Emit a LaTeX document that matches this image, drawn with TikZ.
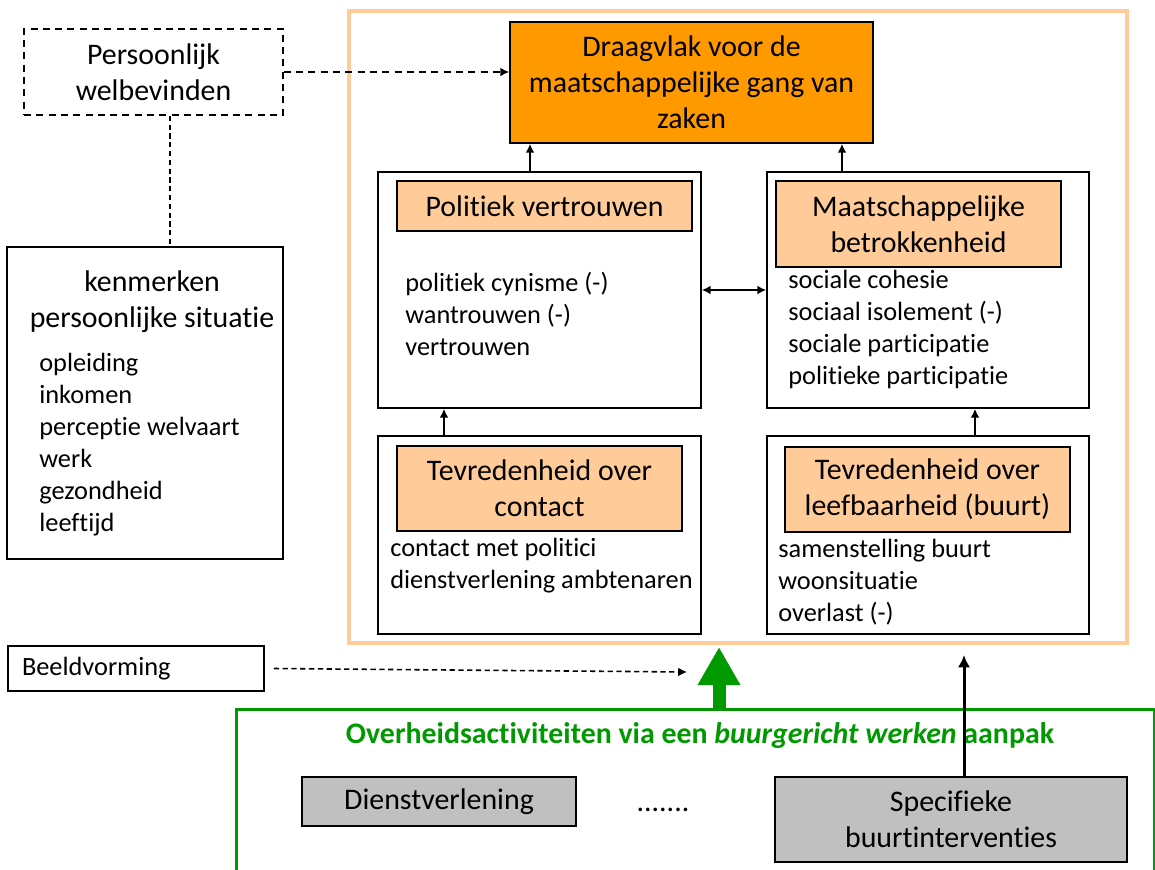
\documentclass[tikz,border=0pt]{standalone}
\usepackage{fontspec}
\setmainfont{Carlito}[Ligatures=NoCommon,Contextuals=NoAlternate]
\usetikzlibrary{arrows.meta,positioning}
\definecolor{perzik}{HTML}{FFCC99}
\definecolor{oranje}{HTML}{FF9900}
\definecolor{groen}{HTML}{009900}
\definecolor{grijs}{HTML}{C0C0C0}
\newcommand\kopfont{\fontsize{17}{20.5}\selectfont}
\newcommand\lijstfont{\fontsize{15}{18.2}\selectfont}

\begin{document}
\begin{tikzpicture}[x=0.02cm,y=-0.02cm,
    kader/.style={draw,rectangle,inner sep=0pt,line width=1pt},
    kop/.style={kader,fill=perzik,font=\kopfont,align=center},
    lijst/.style={inner sep=0pt,align=left,font=\lijstfont,anchor=west},
    pijl/.style={line width=0.9pt,-{Latex[length=5pt,width=5pt]}}]
  \useasboundingbox (0,0) rectangle (1155,869);

  % kader rond het model
  \draw[perzik,line width=2.2pt] (349,11) rectangle (1127,643);

  \node[kader,dash pattern=on 4pt off 3pt,minimum width=5.18cm,minimum height=1.72cm,font=\kopfont,align=center] (welzijn) at (153.5,72) {Persoonlijk\\welbevinden};
  \node[kader,minimum width=5.52cm,minimum height=6.24cm] (kenmerk) at (145,403) {};
  \node[font=\kopfont,align=center,inner sep=0pt] (kenmerktitel) at (152,301.5) {kenmerken\\persoonlijke situatie};
  \node[lijst] (kenmerklijst) at (39,444.5) {opleiding\\inkomen\\perceptie welvaart\\werk\\gezondheid\\leeftijd};
  \node[kader,minimum width=5.12cm,minimum height=0.9cm,font=\lijstfont,text width=4.56cm,align=left] (beeld) at (136,668.5) {Beeldvorming};

  \node[kader,fill=oranje,minimum width=7.26cm,minimum height=2.42cm,font=\kopfont,align=center] (draagvlak) at (691.5,82.5) {Draagvlak voor de\\maatschappelijke gang van\\zaken};

  \node[kader,minimum width=6.46cm,minimum height=4.72cm] (pol) at (539.5,290) {};
  \node[kop,minimum width=5.9cm,minimum height=1cm] (polkop) at (544.5,206) {Politiek vertrouwen};
  \node[lijst] (pollijst) at (405,313.5) {politiek cynisme (-)\\wantrouwen (-)\\vertrouwen};

  \node[kader,minimum width=6.44cm,minimum height=4.72cm] (maat) at (928,290) {};
  \node[kop,minimum width=5.7cm,minimum height=1.72cm] (maatkop) at (918.5,224) {Maatschappelijke\\betrokkenheid};
  \node[lijst] (maatlijst) at (788,329.5) {sociale cohesie\\sociaal isolement (-)\\sociale participatie\\politieke participatie};

  \node[kader,minimum width=6.46cm,minimum height=3.96cm] (con) at (539.5,535) {};
  \node[kop,minimum width=5.7cm,minimum height=1.7cm] (conkop) at (539.5,488.5) {Tevredenheid over\\contact};
  \node[lijst] (conlijst) at (390,566) {contact met politici\\dienstverlening ambtenaren};

  \node[kader,minimum width=6.44cm,minimum height=3.96cm] (leef) at (928,535) {};
  \node[kop,minimum width=5.7cm,minimum height=1.7cm] (leefkop) at (927.5,489.5) {Tevredenheid over\\leefbaarheid (buurt)};
  \node[lijst] (leeflijst) at (778,582) {samenstelling buurt\\woonsituatie\\overlast (-)};

  % overheid
  \node[draw=groen,line width=1.7pt,minimum width=18.36cm,minimum height=4cm,anchor=north west,inner sep=0pt] (ovh) at (235,708) {};
  \node[font=\fontsize{17}{20}\selectfont\bfseries,text=groen] (ovhtitel) at (700,736) {Overheidsactiviteiten via een \textit{buurgericht werken} aanpak};
  \node[kader,fill=grijs,minimum width=5.48cm,minimum height=0.98cm,font=\kopfont] (dienst) at (439,801.5) {Dienstverlening};
  \node[font=\kopfont] (puntjes) at (663,810) {.......};
  \node[kader,fill=grijs,minimum width=7.04cm,minimum height=1.7cm,font=\kopfont,align=center] (spec) at (951,819.5) {Specifieke\\buurtinterventies};
  \coordinate (beeldpunt) at (687,672);

  \draw[pijl] (pol.north -| 530,0) -- (draagvlak.south -| 530,0);
  \draw[pijl] (maat.north -| 842,0) -- (draagvlak.south -| 842,0);
  \draw[pijl] (con.north -| 444,0) -- (pol.south -| 444,0);
  \draw[pijl] (leef.north -| 975,0) -- (maat.south -| 975,0);
  \draw[pijl,{Latex[length=5pt,width=5pt]}-{Latex[length=5pt,width=5pt]}] (pol.east) -- (maat.west);
  \draw[pijl,dash pattern=on 4pt off 3pt] (welzijn.east) -- (draagvlak.west |- welzijn.east);
  \draw[line width=0.8pt,dash pattern=on 3pt off 2pt] (welzijn.south -| 170,0) -- (kenmerk.north -| 170,0);
  \draw[pijl,dash pattern=on 3pt off 2pt] (beeld.east) ++(0.18cm,0) -- (beeldpunt);
  \draw[groen,line width=0.26cm,-{Triangle[length=0.76cm,width=0.8cm]}] (ovh.north -| 719,0) -- (719,647);
  \draw[line width=1.7pt,-{Latex[length=7pt,width=7pt]}] (spec.north -| 964,0) -- (964,655);
\end{tikzpicture}
\end{document}
